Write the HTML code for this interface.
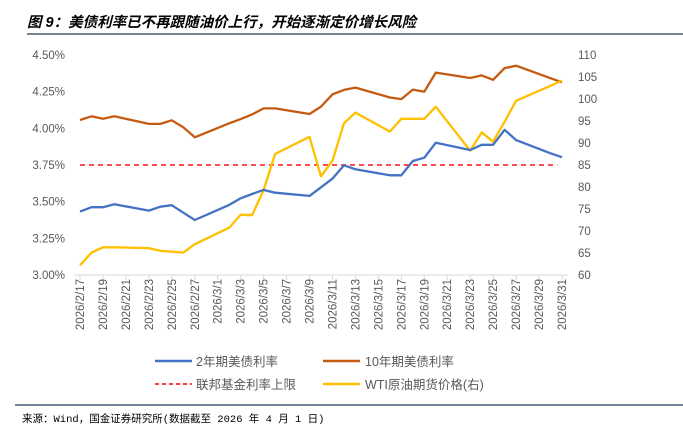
<!DOCTYPE html>
<html><head><meta charset="utf-8"><style>
body{margin:0;background:#fff;width:683px;height:433px;overflow:hidden;font-family:"Liberation Sans","Noto Sans CJK SC",sans-serif;}
svg{display:block}
</style></head><body>
<svg id="chart" width="683" height="433" viewBox="0 0 683 433" xmlns="http://www.w3.org/2000/svg">
<text x="27" y="27" font-size="14.5" font-weight="bold" font-style="italic" fill="#000" font-family="'Liberation Sans','Noto Sans CJK SC',sans-serif">图 9：美债利率已不再跟随油价上行，开始逐渐定价增长风险</text>
<line x1="27" y1="34" x2="683" y2="34" stroke="#1f3d5a" stroke-width="1.2"/>
<line x1="15" y1="405" x2="683" y2="405" stroke="#1f3d5a" stroke-width="1.2"/>
<text x="22" y="422" font-size="10.5" fill="#000" font-family="'Liberation Mono','Noto Sans CJK SC',monospace">来源：Wind，国金证券研究所(数据截至 2026 年 4 月 1 日)</text>
<g id="plot"></g>
<g id="legend">
 <line x1="155" y1="361" x2="192" y2="361" stroke="#4472c4" stroke-width="2.5"/>
 <text x="196" y="366" font-size="12.5" fill="#595959">2年期美债利率</text>
 <line x1="323" y1="361" x2="360" y2="361" stroke="#c55a11" stroke-width="2.5"/>
 <text x="365" y="366" font-size="12.5" fill="#595959">10年期美债利率</text>
 <line x1="155" y1="384" x2="192" y2="384" stroke="#ff0000" stroke-width="1.5" stroke-dasharray="4,3"/>
 <text x="196" y="389" font-size="12.5" fill="#595959">联邦基金利率上限</text>
 <line x1="323" y1="384" x2="360" y2="384" stroke="#ffc000" stroke-width="2.5"/>
 <text x="365" y="389" font-size="12.5" fill="#595959">WTI原油期货价格(右)</text>
</g>
</svg>
<script>
// day index from 2026/2/17
const days = [0,1,2,3,6,7,8,9,10,13,14,15,16,17,20,21,22,23,24,27,28,29,30,31,34,35,36,37,38,41,42];
const y2 = [3.432,3.462,3.462,3.482,3.439,3.466,3.476,3.425,3.375,3.478,3.523,3.552,3.58,3.561,3.539,3.598,3.657,3.748,3.721,3.68,3.68,3.777,3.80,3.902,3.852,3.888,3.888,3.99,3.92,3.83,3.803];
const y10 = [4.057,4.082,4.066,4.082,4.030,4.030,4.055,4.007,3.939,4.034,4.063,4.095,4.136,4.136,4.098,4.148,4.232,4.262,4.278,4.21,4.199,4.264,4.25,4.38,4.343,4.361,4.331,4.411,4.427,4.342,4.314];
const wti = [62.2,65.1,66.3,66.3,66.1,65.5,65.3,65.1,67.0,70.75,73.7,73.6,79.3,87.5,91.4,82.4,86.0,94.5,96.9,92.6,95.5,95.5,95.5,98.25,88.25,92.4,90.3,94.85,99.6,103,104.2];
const fedCap = 3.75;
const leftTicks = [3.00,3.25,3.50,3.75,4.00,4.25,4.50];
const rightTicks = [60,65,70,75,80,85,90,95,100,105,110];
const xTickLabels = ["2026/2/17","2026/2/19","2026/2/21","2026/2/23","2026/2/25","2026/2/27","2026/3/1","2026/3/3","2026/3/5","2026/3/7","2026/3/9","2026/3/11","2026/3/13","2026/3/15","2026/3/17","2026/3/19","2026/3/21","2026/3/23","2026/3/25","2026/3/27","2026/3/29","2026/3/31"];

const NS="http://www.w3.org/2000/svg";
const plot=document.getElementById('plot');
const X0=80, X1=562, DMAX=42, YT=55, YB=275;
const xs=d=>X0+(X1-X0)*d/DMAX;
const yl=v=>YB-(v-3.0)/(4.5-3.0)*(YB-YT);
const yr=v=>YB-(v-60)/(110-60)*(YB-YT);
function mk(tag,attrs){const e=document.createElementNS(NS,tag);for(const k in attrs)e.setAttribute(k,attrs[k]);plot.appendChild(e);return e;}

// axis
const ax=mk('line',{x1:74,y1:YB,x2:568,y2:YB,stroke:'#d9d9d9','stroke-width':1});


xTickLabels.forEach((lab,i)=>{
  const x=xs(i*2);
  const t=mk('line',{x1:x,y1:YB,x2:x,y2:YB+5,stroke:'#d9d9d9'});
  
  
  const tx=mk('text',{x:0,y:0,'font-size':11.5,fill:'#595959','text-anchor':'end',transform:`translate(${x+4},${YB+4}) rotate(-90)`});
  
  
  tx.textContent=lab;
});
leftTicks.forEach(v=>{
  const t=mk('text',{x:65,y:yl(v)+4,'font-size':11.5,fill:'#595959','text-anchor':'end'});
  
  
  t.textContent=v.toFixed(2)+'%';
});
rightTicks.forEach(v=>{
  const t=mk('text',{x:578,y:yr(v)+4,'font-size':11.5,fill:'#595959'});
  
  
  t.textContent=v;
});
// fed cap
const fed=mk('line',{x1:xs(0),y1:yl(fedCap),x2:xs(41.6),y2:yl(fedCap),stroke:'#ff3333','stroke-width':1.8,'stroke-dasharray':'5,4'});


function series(vals,yf,color,name){
  const p=vals.map((v,i)=>xs(days[i]).toFixed(1)+','+yf(v).toFixed(1)).join(' ');
  const e=mk('polyline',{points:p,fill:'none',stroke:color,'stroke-width':2.3,'stroke-linejoin':'round'});
  
  
}
series(y10,yl,'#c55a11','line-10y-yield');
series(wti,yr,'#ffc000','line-wti-price');
series(y2,yl,'#4472c4','line-2y-yield');
</script>
</body></html>
